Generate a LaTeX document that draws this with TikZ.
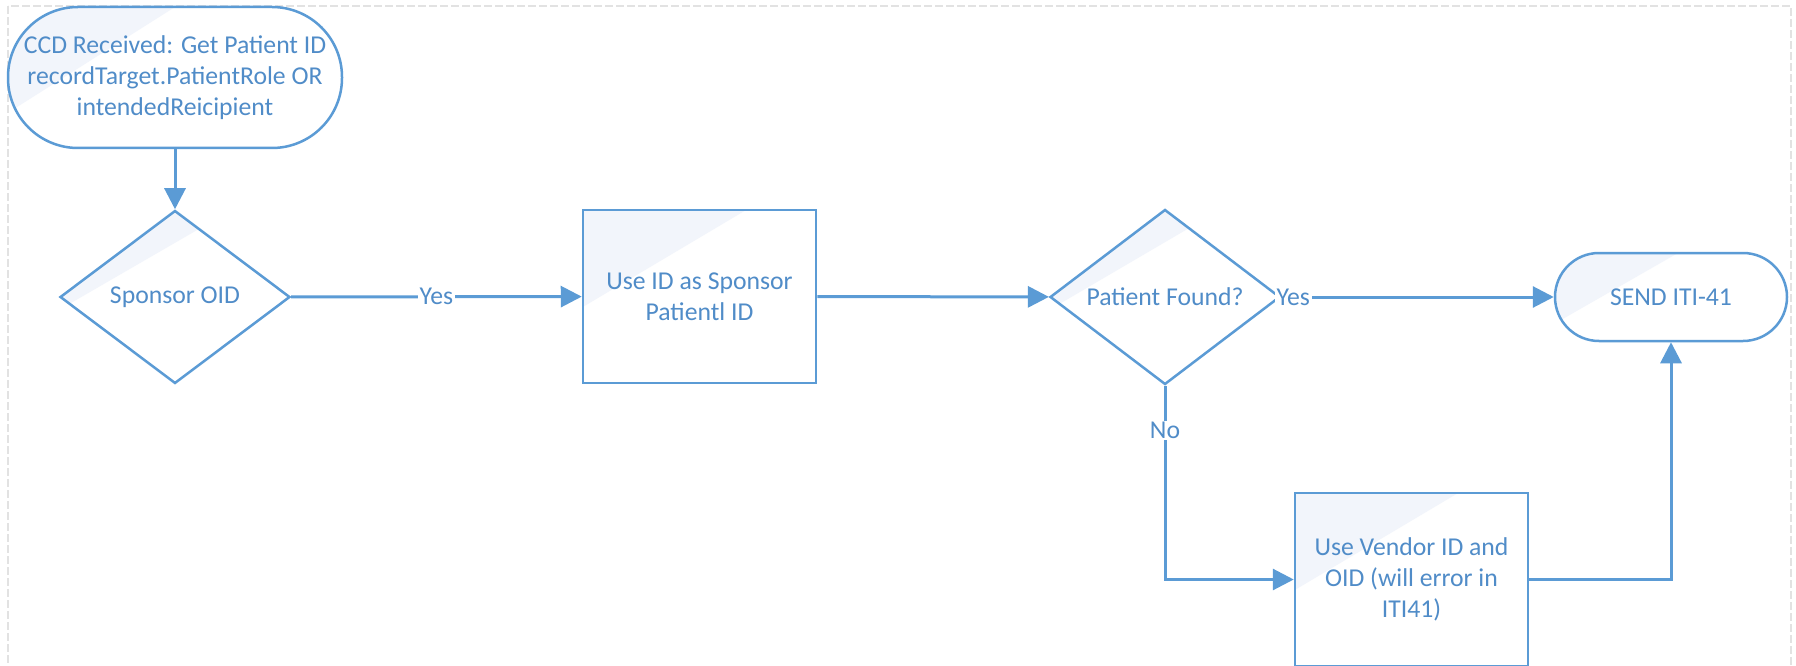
\documentclass[tikz,border=0pt]{standalone}
\usepackage{fontspec}
\setmainfont{Carlito}
\usetikzlibrary{shapes.geometric,arrows.meta,calc}
\definecolor{lineblue}{HTML}{5B9BD5}
\definecolor{textblue}{HTML}{508CC8}
\definecolor{tint}{HTML}{F2F5FB}
\definecolor{framegray}{HTML}{E2E2E2}
\begin{document}
\begin{tikzpicture}[x=1pt,y=-1pt,
  base/.style={draw=lineblue, line width=2.5pt, text=textblue,
    font=\fontsize{25.7}{31}\selectfont, align=center, inner sep=0pt, fill=white},
  tinted/.style 2 args={path picture={\fill[tint,sharp corners]
     (path picture bounding box.north west)
     -- ($(path picture bounding box.north west)!#1!(path picture bounding box.north east)$)
     -- ($(path picture bounding box.north west)!#2!(path picture bounding box.south west)$)
     -- cycle;}},
  terminal/.style={base, rectangle, rounded corners=#1},
  decision/.style={base, diamond, minimum width=230pt, minimum height=173pt, tinted={0.74}{0.57}},
  process/.style={base, rectangle, minimum width=233pt, minimum height=173pt, tinted={0.70}{0.56}},
  conn/.style={draw=lineblue, line width=3pt, -{Triangle[length=21pt,width=21pt]}},
  lbl/.style={fill=white, text=textblue, font=\fontsize{25.7}{31}\selectfont, inner sep=1.5pt}
]
\useasboundingbox (0,0) rectangle (1796,666);
\draw[framegray, line width=1.5pt, dash pattern=on 8pt off 3pt] (8,6) rectangle (1791,720);

\node[terminal=70pt, minimum width=334pt, minimum height=141pt, tinted={0.5}{0.75}] (start) at (175,77.5)
  {CCD Received: Get Patient ID\\recordTarget.PatientRole OR\\intendedReicipient};
\node[decision] (d1) at (175,297) {Sponsor OID};
\node[process] (b1) at (699.5,296.5) {Use ID as Sponsor\\Patientl ID};
\node[decision] (d2) at (1165,297) {Patient Found?};
\node[terminal=44pt, minimum width=232pt, minimum height=88pt, tinted={0.53}{0.8}] (send) at (1671,297) {SEND ITI-41};
\node[process] (b2) at (1411.5,579.5) {Use Vendor ID and\\OID (will error in\\ITI41)};

\draw[conn] (start) -- (d1);
\draw[conn] (d1) -- node[lbl]{Yes} (b1);
\draw[conn] (b1) -- (d2);
\draw[conn] (d2) -- node[lbl,pos=0.044]{Yes} (send);
\draw[conn] (d2.south) |- node[lbl,pos=0.115]{No} (b2.west);
\draw[conn] (b2.east) -| (send.south);
\end{tikzpicture}
\end{document}
